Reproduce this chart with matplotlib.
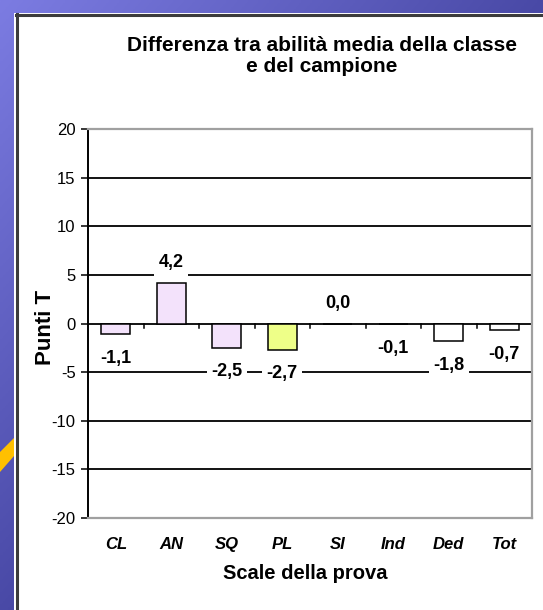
import matplotlib; matplotlib.use("Agg")
import matplotlib.pyplot as plt
import numpy as np
from matplotlib.patches import Rectangle, Polygon

plt.rcParams.update({"font.family": ["Liberation Sans", "DejaVu Sans"]})

# dati
scale = ["CL", "AN", "SQ", "PL", "SI", "Ind", "Ded", "Tot"]
diff = [-1.1, 4.2, -2.5, -2.7, 0.0, -0.1, -1.8, -0.7]
colori = ["#f3e2fb", "#f3e2fb", "#f3e2fb", "#eeff88", "#f3e2fb", "#f3e2fb", "#ffffff", "#ffffff"]
yticks = [-20, -15, -10, -5, 0, 5, 10, 15, 20]

W, H = 543, 610
fig = plt.figure(figsize=(W/100, H/100), dpi=100)

# sfondo diapositiva (gradiente blu + pannello bianco)
bg = fig.add_axes([0, 0, 1, 1])
xx, yy = np.meshgrid(np.linspace(0, 1, 200), np.linspace(0, 1, 200))
t = np.clip((xx + yy) * 0.9, 0, 1)[..., None]
c0 = np.array([0x7c, 0x7c, 0xe2]) / 255
c1 = np.array([0x44, 0x44, 0xa0]) / 255
bg.imshow(c0 + (c1 - c0) * t, extent=[0, W, H, 0], aspect="auto")
bg.add_patch(Rectangle((14, 13), W, H, facecolor="white", edgecolor="none"))
bg.plot([16.5, 16.5], [14, H], color="#3c3c3c", lw=2.2)
bg.plot([16, W], [14.5, 14.5], color="#3c3c3c", lw=2.2)
bg.add_patch(Polygon([(0, 452), (14, 438), (14, 456), (0, 472)], facecolor="#ffc000", edgecolor="none"))
bg.set_xlim(0, W); bg.set_ylim(H, 0)
bg.axis("off")

ax = fig.add_axes([88/W, 1 - 518/H, (532-88)/W, (518-129)/H])
x = np.arange(len(scale))
ax.bar(x, diff, width=0.53, color=colori, edgecolor="black", lw=1.1, zorder=3)
for v in yticks[1:-1]:
    ax.axhline(v, color="black", lw=1.3, zorder=1)
for b in np.arange(1, len(scale)) - 0.5:
    ax.plot([b, b], [0, -0.5], color="black", lw=1.1, zorder=2)

for i, v in enumerate(diff):
    off = 20 if v >= 0 else -24
    ax.annotate(f"{v:.1f}".replace(".", ","), (x[i], v), xytext=(0, off),
                textcoords="offset pixels", ha="center", va="center",
                fontsize=13, fontweight="bold", zorder=4,
                bbox=dict(boxstyle="square,pad=0.25", fc="white", ec="none"))

ax.set_xlim(-0.5, len(scale) - 0.5)
ax.set_ylim(-20, 20)
ax.set_yticks(yticks)
ax.set_yticklabels([str(v) for v in yticks], fontsize=12)
ax.tick_params(axis="y", length=5, width=1.1, pad=4)
ax.set_xticks(x)
ax.set_xticklabels(scale, fontsize=12, fontweight="bold", style="italic")
ax.tick_params(axis="x", length=0, pad=14)
for s in ["top", "right", "bottom"]:
    ax.spines[s].set_color("#a0a0a0")
    ax.spines[s].set_linewidth(1.6)
ax.spines["left"].set_linewidth(1.4)
ax.set_ylabel("Punti T", fontsize=16, fontweight="bold")
ax.yaxis.set_label_coords(-0.072, 0.49)
ax.set_xlabel("Scale della prova", fontsize=14.5, fontweight="bold")
ax.xaxis.set_label_coords(0.49, -0.118)
fig.text(322/W, 1 - 56/H, "Differenza tra abilità media della classe\ne del campione",
         ha="center", va="center", fontsize=15, fontweight="bold", linespacing=1.12)

fig.savefig("out.png", dpi=100)
